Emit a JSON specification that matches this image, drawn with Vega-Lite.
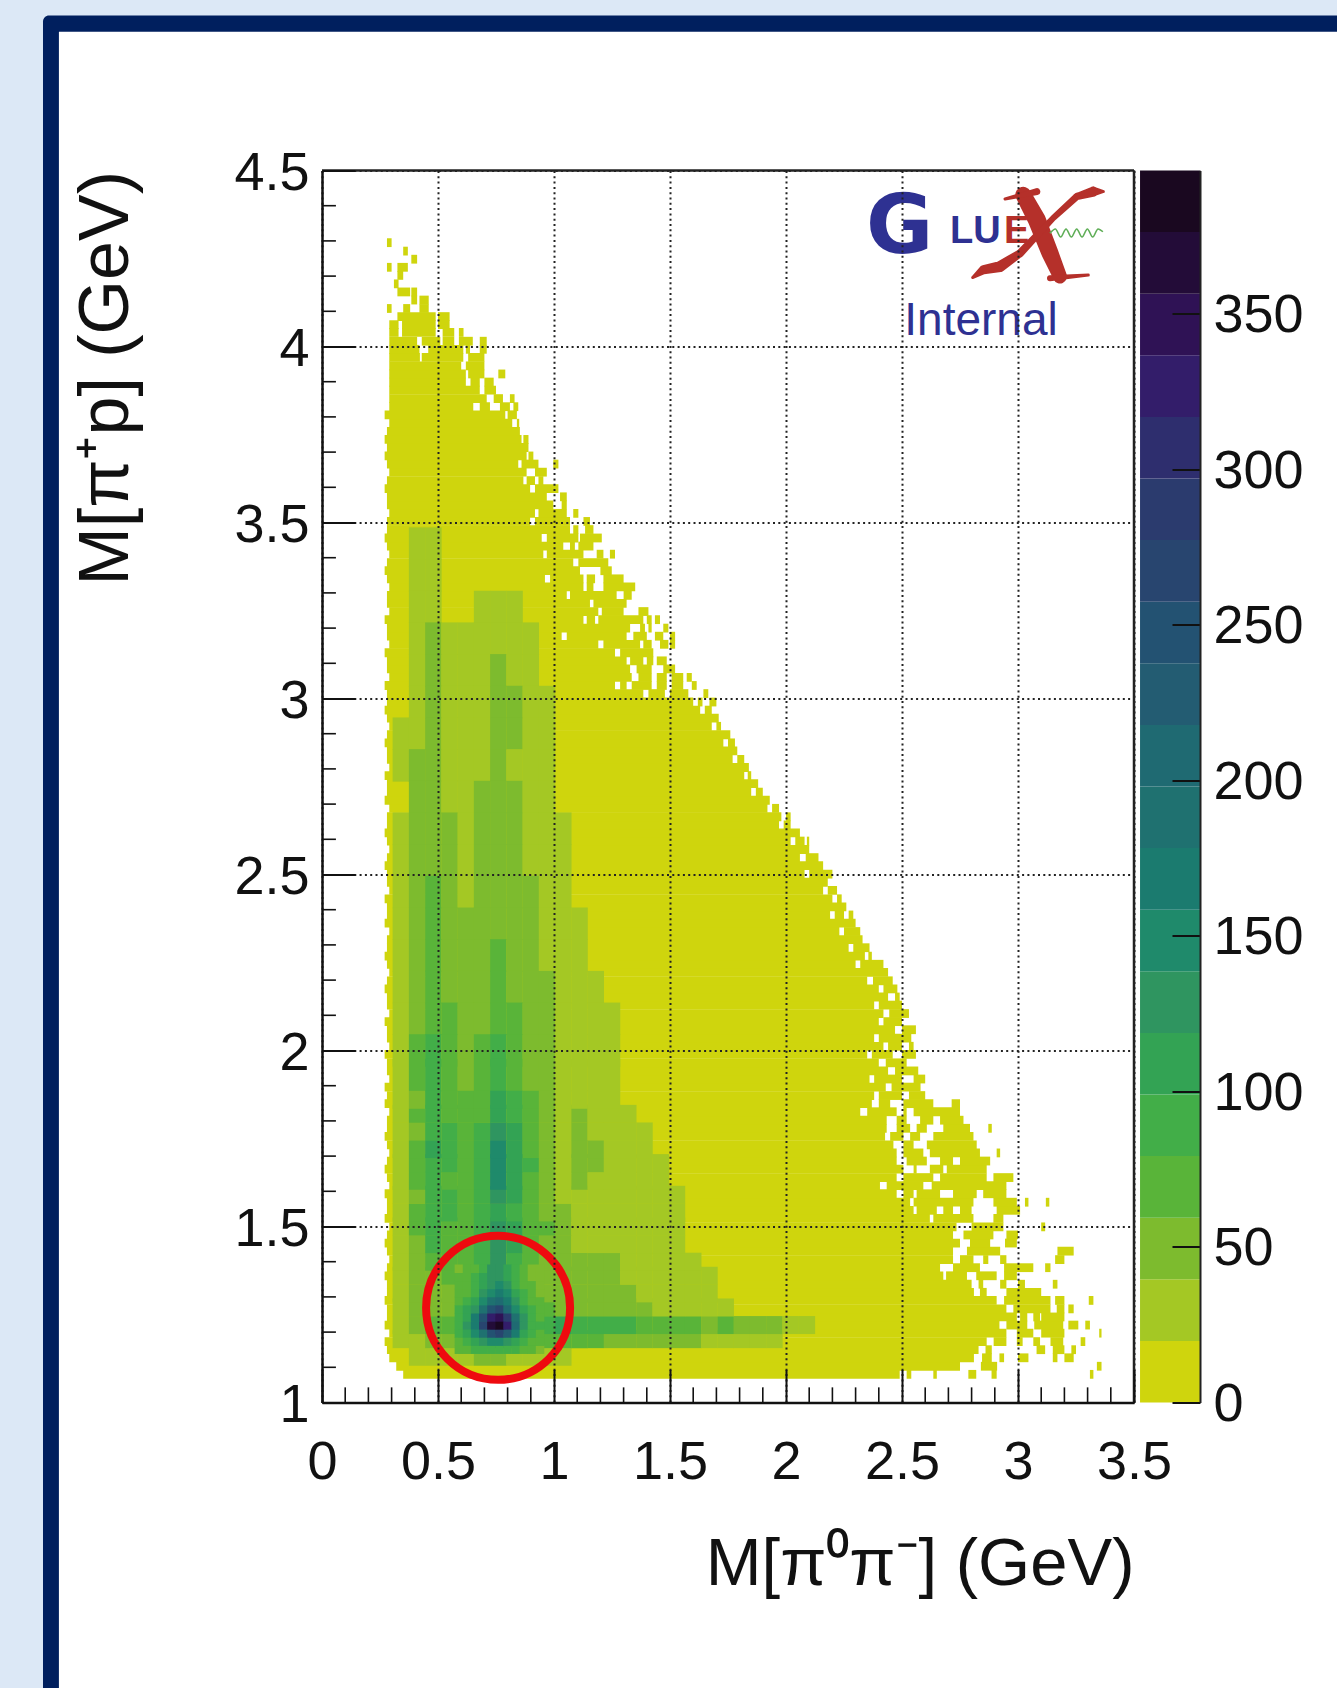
{"$schema":"https://vega.github.io/schema/vega-lite/v6.json","width":812,"height":1232,"autosize":"none","padding":{"left":322,"top":170.5,"right":203,"bottom":285.5},"background":"#dce8f6","config":{"view":{"stroke":null},"axis":{"labelFont":"Liberation Sans","titleFont":"Liberation Sans"},"legend":{"disable":true}},
"datasets":{"frame":[{"k":"navy","a":-1.2026,"b":4.6,"c":0,"d":4.94},{"k":"white","a":-1.134,"b":4.6,"c":0,"d":4.894}],
"strips":[
{"y":1.08,"a":0.35,"b":2.49},{"y":1.08,"a":2.52,"b":2.54},{"y":1.08,"a":2.635,"b":2.65},{"y":1.08,"a":2.786,"b":2.82},{"y":1.08,"a":2.886,"b":2.908},{"y":1.08,"a":3.31,"b":3.325},
{"y":1.103,"a":0.32,"b":2.75},{"y":1.103,"a":2.84,"b":2.91},{"y":1.103,"a":3.34,"b":3.36},
{"y":1.127,"a":0.29,"b":2.81},{"y":1.127,"a":2.845,"b":2.887},{"y":1.127,"a":2.92,"b":2.94},{"y":1.127,"a":3,"b":3.045},{"y":1.127,"a":3.15,"b":3.17},{"y":1.127,"a":3.2,"b":3.24},
{"y":1.15,"a":0.28,"b":2.83},{"y":1.15,"a":2.86,"b":2.887},{"y":1.15,"a":3.08,"b":3.117},{"y":1.15,"a":3.15,"b":3.2},{"y":1.15,"a":3.23,"b":3.25},
{"y":1.173,"a":0.27,"b":2.865},{"y":1.173,"a":2.895,"b":2.95},{"y":1.173,"a":2.995,"b":3.02},{"y":1.173,"a":3.066,"b":3.095},{"y":1.173,"a":3.14,"b":3.195},{"y":1.173,"a":3.27,"b":3.29},
{"y":1.197,"a":0.29,"b":2.95},{"y":1.197,"a":2.995,"b":3.066},{"y":1.197,"a":3.1,"b":3.2},{"y":1.197,"a":3.35,"b":3.36},
{"y":1.22,"a":0.27,"b":2.92},{"y":1.22,"a":2.95,"b":3.04},{"y":1.22,"a":3.07,"b":3.195},{"y":1.22,"a":3.217,"b":3.26},{"y":1.22,"a":3.29,"b":3.31},
{"y":1.243,"a":0.28,"b":2.995},{"y":1.243,"a":3.009,"b":3.04},{"y":1.243,"a":3.066,"b":3.095},{"y":1.243,"a":3.1,"b":3.2},
{"y":1.266,"a":0.28,"b":2.95},{"y":1.266,"a":2.98,"b":3.14},{"y":1.266,"a":3.167,"b":3.2},{"y":1.266,"a":3.217,"b":3.24},
{"y":1.29,"a":0.27,"b":2.908},{"y":1.29,"a":2.94,"b":3.14},{"y":1.29,"a":3.16,"b":3.2},{"y":1.29,"a":3.305,"b":3.325},
{"y":1.313,"a":0.28,"b":2.81},{"y":1.313,"a":2.836,"b":2.865},{"y":1.313,"a":2.95,"b":3.1},
{"y":1.336,"a":0.28,"b":2.8},{"y":1.336,"a":2.83,"b":2.85},{"y":1.336,"a":2.923,"b":2.95},{"y":1.336,"a":3,"b":3.03},{"y":1.336,"a":3.15,"b":3.17},
{"y":1.36,"a":0.27,"b":2.678},{"y":1.36,"a":2.69,"b":2.78},{"y":1.36,"a":2.82,"b":2.908},{"y":1.36,"a":2.94,"b":2.995},
{"y":1.383,"a":0.28,"b":2.664},{"y":1.383,"a":2.72,"b":2.836},{"y":1.383,"a":2.94,"b":3.066},{"y":1.383,"a":3.117,"b":3.14},
{"y":1.406,"a":0.29,"b":2.72},{"y":1.406,"a":2.75,"b":2.808},{"y":1.406,"a":2.85,"b":2.872},{"y":1.406,"a":2.923,"b":2.95},{"y":1.406,"a":3.16,"b":3.2},
{"y":1.43,"a":0.28,"b":2.72},{"y":1.43,"a":2.78,"b":2.923},{"y":1.43,"a":3.17,"b":3.24},
{"y":1.453,"a":0.27,"b":2.75},{"y":1.453,"a":2.793,"b":2.88},{"y":1.453,"a":2.944,"b":2.995},
{"y":1.476,"a":0.28,"b":2.72},{"y":1.476,"a":2.765,"b":2.894},{"y":1.476,"a":2.95,"b":3},
{"y":1.499,"a":0.29,"b":2.735},{"y":1.499,"a":2.8,"b":2.937},{"y":1.499,"a":3.1,"b":3.117},
{"y":1.523,"a":0.27,"b":2.62},{"y":1.523,"a":2.635,"b":2.808},{"y":1.523,"a":2.894,"b":2.937},
{"y":1.546,"a":0.28,"b":2.55},{"y":1.546,"a":2.563,"b":2.65},{"y":1.546,"a":2.678,"b":2.72},{"y":1.546,"a":2.75,"b":2.8},{"y":1.546,"a":2.908,"b":3.009},
{"y":1.569,"a":0.28,"b":2.535},{"y":1.569,"a":2.55,"b":2.808},{"y":1.569,"a":2.894,"b":2.995},{"y":1.569,"a":3.03,"b":3.045},{"y":1.569,"a":3.12,"b":3.135},
{"y":1.593,"a":0.27,"b":2.477},{"y":1.593,"a":2.506,"b":2.55},{"y":1.593,"a":2.563,"b":2.664},{"y":1.593,"a":2.72,"b":2.822},{"y":1.593,"a":2.85,"b":2.95},
{"y":1.616,"a":0.29,"b":2.405},{"y":1.616,"a":2.434,"b":2.592},{"y":1.616,"a":2.628,"b":2.95},
{"y":1.639,"a":0.28,"b":2.477},{"y":1.639,"a":2.506,"b":2.635},{"y":1.639,"a":2.664,"b":2.865},{"y":1.639,"a":2.894,"b":2.98},
{"y":1.663,"a":0.27,"b":2.506},{"y":1.663,"a":2.55,"b":2.563},{"y":1.663,"a":2.62,"b":2.678},{"y":1.663,"a":2.693,"b":2.865},
{"y":1.686,"a":0.28,"b":2.477},{"y":1.686,"a":2.52,"b":2.607},{"y":1.686,"a":2.664,"b":2.72},{"y":1.686,"a":2.75,"b":2.88},
{"y":1.709,"a":0.29,"b":2.477},{"y":1.709,"a":2.506,"b":2.592},{"y":1.709,"a":2.62,"b":2.836},{"y":1.709,"a":2.908,"b":2.923},
{"y":1.732,"a":0.28,"b":2.463},{"y":1.732,"a":2.506,"b":2.55},{"y":1.732,"a":2.607,"b":2.822},
{"y":1.756,"a":0.27,"b":2.427},{"y":1.756,"a":2.449,"b":2.506},{"y":1.756,"a":2.535,"b":2.578},{"y":1.756,"a":2.635,"b":2.808},
{"y":1.779,"a":0.28,"b":2.434},{"y":1.779,"a":2.477,"b":2.535},{"y":1.779,"a":2.563,"b":2.607},{"y":1.779,"a":2.678,"b":2.793},{"y":1.779,"a":2.872,"b":2.887},
{"y":1.802,"a":0.28,"b":2.434},{"y":1.802,"a":2.477,"b":2.52},{"y":1.802,"a":2.578,"b":2.635},{"y":1.802,"a":2.664,"b":2.765},
{"y":1.826,"a":0.29,"b":2.32},{"y":1.826,"a":2.35,"b":2.477},{"y":1.826,"a":2.506,"b":2.52},{"y":1.826,"a":2.55,"b":2.75},
{"y":1.849,"a":0.27,"b":2.37},{"y":1.849,"a":2.4,"b":2.449},{"y":1.849,"a":2.506,"b":2.635},{"y":1.849,"a":2.714,"b":2.75},
{"y":1.872,"a":0.28,"b":2.38},{"y":1.872,"a":2.4,"b":2.5},{"y":1.872,"a":2.53,"b":2.6},
{"y":1.896,"a":0.27,"b":2.43},{"y":1.896,"a":2.455,"b":2.58},
{"y":1.919,"a":0.29,"b":2.36},{"y":1.919,"a":2.38,"b":2.5},{"y":1.919,"a":2.55,"b":2.6},
{"y":1.942,"a":0.28,"b":2.44},{"y":1.942,"a":2.47,"b":2.57},
{"y":1.965,"a":0.28,"b":2.4},{"y":1.965,"a":2.43,"b":2.52},
{"y":1.989,"a":0.27,"b":2.35},{"y":1.989,"a":2.37,"b":2.46},{"y":1.989,"a":2.5,"b":2.56},
{"y":2.012,"a":0.29,"b":2.42},{"y":2.012,"a":2.44,"b":2.5},{"y":2.012,"a":2.53,"b":2.55},
{"y":2.035,"a":0.28,"b":2.38},{"y":2.035,"a":2.4,"b":2.54},
{"y":2.059,"a":0.28,"b":2.47},{"y":2.059,"a":2.5,"b":2.56},
{"y":2.082,"a":0.27,"b":2.4},{"y":2.082,"a":2.42,"b":2.5},
{"y":2.105,"a":0.29,"b":2.42},{"y":2.105,"a":2.445,"b":2.53},
{"y":2.129,"a":0.28,"b":2.38},{"y":2.129,"a":2.4,"b":2.5},
{"y":2.152,"a":0.28,"b":2.44},{"y":2.152,"a":2.47,"b":2.49},
{"y":2.175,"a":0.27,"b":2.4},{"y":2.175,"a":2.42,"b":2.48},
{"y":2.198,"a":0.28,"b":2.35},{"y":2.198,"a":2.375,"b":2.46},
{"y":2.222,"a":0.29,"b":2.44},
{"y":2.245,"a":0.28,"b":2.3},{"y":2.245,"a":2.32,"b":2.42},
{"y":2.268,"a":0.27,"b":2.34},{"y":2.268,"a":2.355,"b":2.37},
{"y":2.292,"a":0.28,"b":2.27},{"y":2.292,"a":2.29,"b":2.36},
{"y":2.315,"a":0.28,"b":2.33},
{"y":2.338,"a":0.29,"b":2.23},{"y":2.338,"a":2.25,"b":2.32},
{"y":2.362,"a":0.27,"b":2.3},
{"y":2.385,"a":0.28,"b":2.19},{"y":2.385,"a":2.21,"b":2.25},{"y":2.385,"a":2.27,"b":2.29},
{"y":2.408,"a":0.28,"b":2.26},
{"y":2.431,"a":0.27,"b":2.2},{"y":2.431,"a":2.22,"b":2.24},
{"y":2.455,"a":0.29,"b":2.16},{"y":2.455,"a":2.18,"b":2.22},
{"y":2.478,"a":0.28,"b":2.18},
{"y":2.501,"a":0.28,"b":2.08},{"y":2.501,"a":2.1,"b":2.2},
{"y":2.525,"a":0.27,"b":2.16},
{"y":2.548,"a":0.28,"b":2.06},{"y":2.548,"a":2.085,"b":2.14},
{"y":2.571,"a":0.29,"b":2.1},
{"y":2.595,"a":0.28,"b":2.02},{"y":2.595,"a":2.04,"b":2.08},{"y":2.595,"a":2.09,"b":2.1},
{"y":2.618,"a":0.27,"b":2.06},
{"y":2.641,"a":0.28,"b":1.97},{"y":2.641,"a":1.99,"b":2.02},
{"y":2.664,"a":0.28,"b":1.98},{"y":2.664,"a":2,"b":2.02},
{"y":2.688,"a":0.29,"b":1.92},{"y":2.688,"a":1.94,"b":1.97},
{"y":2.711,"a":0.27,"b":1.93},
{"y":2.734,"a":0.28,"b":1.85},{"y":2.734,"a":1.87,"b":1.9},
{"y":2.758,"a":0.28,"b":1.88},
{"y":2.781,"a":0.27,"b":1.82},{"y":2.781,"a":1.835,"b":1.85},
{"y":2.804,"a":0.29,"b":1.84},
{"y":2.827,"a":0.28,"b":1.77},{"y":2.827,"a":1.79,"b":1.82},
{"y":2.851,"a":0.28,"b":1.79},
{"y":2.874,"a":0.27,"b":1.73},{"y":2.874,"a":1.75,"b":1.78},
{"y":2.897,"a":0.28,"b":1.76},
{"y":2.921,"a":0.29,"b":1.68},{"y":2.921,"a":1.7,"b":1.72},
{"y":2.944,"a":0.28,"b":1.71},
{"y":2.967,"a":0.27,"b":1.63},{"y":2.967,"a":1.65,"b":1.68},
{"y":2.99,"a":0.28,"b":1.6},{"y":2.99,"a":1.62,"b":1.64},{"y":2.99,"a":1.67,"b":1.7},
{"y":3.014,"a":0.28,"b":1.385},{"y":3.014,"a":1.407,"b":1.478},{"y":3.014,"a":1.5,"b":1.579},{"y":3.014,"a":1.644,"b":1.665},
{"y":3.037,"a":0.27,"b":1.263},{"y":3.037,"a":1.285,"b":1.313},{"y":3.037,"a":1.335,"b":1.421},{"y":3.037,"a":1.443,"b":1.486},{"y":3.037,"a":1.507,"b":1.557},{"y":3.037,"a":1.594,"b":1.615},
{"y":3.06,"a":0.29,"b":1.335},{"y":3.06,"a":1.364,"b":1.421},{"y":3.06,"a":1.443,"b":1.486},{"y":3.06,"a":1.507,"b":1.557},{"y":3.06,"a":1.572,"b":1.594},
{"y":3.084,"a":0.28,"b":1.328},{"y":3.084,"a":1.356,"b":1.421},{"y":3.084,"a":1.471,"b":1.522},
{"y":3.107,"a":0.28,"b":1.313},{"y":3.107,"a":1.328,"b":1.385},{"y":3.107,"a":1.4,"b":1.428},{"y":3.107,"a":1.443,"b":1.486},
{"y":3.13,"a":0.27,"b":1.263},{"y":3.13,"a":1.285,"b":1.428},
{"y":3.154,"a":0.29,"b":1.191},{"y":3.154,"a":1.213,"b":1.371},{"y":3.154,"a":1.385,"b":1.421},{"y":3.154,"a":1.457,"b":1.493},{"y":3.154,"a":1.5,"b":1.522},
{"y":3.177,"a":0.28,"b":1.033},{"y":3.177,"a":1.055,"b":1.313},{"y":3.177,"a":1.342,"b":1.4},{"y":3.177,"a":1.435,"b":1.471},{"y":3.177,"a":1.5,"b":1.522},
{"y":3.2,"a":0.28,"b":1.328},{"y":3.2,"a":1.371,"b":1.392},{"y":3.2,"a":1.407,"b":1.421},{"y":3.2,"a":1.471,"b":1.493},
{"y":3.224,"a":0.27,"b":1.127},{"y":3.224,"a":1.141,"b":1.177},{"y":3.224,"a":1.191,"b":1.385},{"y":3.224,"a":1.4,"b":1.421},{"y":3.224,"a":1.435,"b":1.457},
{"y":3.247,"a":0.29,"b":1.191},{"y":3.247,"a":1.206,"b":1.3},{"y":3.247,"a":1.364,"b":1.407},
{"y":3.27,"a":0.28,"b":1.155},{"y":3.27,"a":1.17,"b":1.313},
{"y":3.293,"a":0.28,"b":1.055},{"y":3.293,"a":1.069,"b":1.27},{"y":3.293,"a":1.3,"b":1.335},
{"y":3.317,"a":0.29,"b":1.127},{"y":3.317,"a":1.141,"b":1.17},{"y":3.317,"a":1.213,"b":1.35},
{"y":3.34,"a":0.28,"b":0.961},{"y":3.34,"a":0.983,"b":1.127},{"y":3.34,"a":1.141,"b":1.177},{"y":3.34,"a":1.213,"b":1.3},
{"y":3.363,"a":0.27,"b":1.112},{"y":3.363,"a":1.2,"b":1.249},
{"y":3.386,"a":0.28,"b":1.083},{"y":3.386,"a":1.105,"b":1.234},
{"y":3.41,"a":0.29,"b":0.954},{"y":3.41,"a":0.969,"b":1.127},{"y":3.41,"a":1.184,"b":1.213},{"y":3.41,"a":1.241,"b":1.263},
{"y":3.433,"a":0.28,"b":1.04},{"y":3.433,"a":1.069,"b":1.09},{"y":3.433,"a":1.105,"b":1.17},
{"y":3.456,"a":0.27,"b":0.947},{"y":3.456,"a":0.969,"b":1.105},{"y":3.456,"a":1.112,"b":1.206},
{"y":3.48,"a":0.28,"b":1.069},{"y":3.48,"a":1.083,"b":1.105},{"y":3.48,"a":1.134,"b":1.17},
{"y":3.503,"a":0.28,"b":0.897},{"y":3.503,"a":0.918,"b":1.069},{"y":3.503,"a":1.127,"b":1.155},
{"y":3.526,"a":0.29,"b":0.918},{"y":3.526,"a":0.933,"b":1.055},{"y":3.526,"a":1.083,"b":1.105},
{"y":3.55,"a":0.28,"b":0.997},{"y":3.55,"a":1.033,"b":1.055},
{"y":3.573,"a":0.28,"b":0.969},{"y":3.573,"a":1.026,"b":1.055},
{"y":3.596,"a":0.27,"b":0.897},{"y":3.596,"a":0.918,"b":1.019},
{"y":3.619,"a":0.28,"b":0.868},{"y":3.619,"a":0.882,"b":0.918},{"y":3.619,"a":0.933,"b":0.954},
{"y":3.643,"a":0.29,"b":0.882},{"y":3.643,"a":0.918,"b":0.969},
{"y":3.666,"a":0.28,"b":0.846},{"y":3.666,"a":0.86,"b":0.933},{"y":3.666,"a":0.997,"b":1.019},
{"y":3.689,"a":0.27,"b":0.882},{"y":3.689,"a":0.89,"b":0.911},
{"y":3.713,"a":0.28,"b":0.89},
{"y":3.736,"a":0.27,"b":0.86},{"y":3.736,"a":0.868,"b":0.89},
{"y":3.759,"a":0.28,"b":0.853},
{"y":3.782,"a":0.29,"b":0.82},{"y":3.782,"a":0.84,"b":0.85},
{"y":3.806,"a":0.27,"b":0.79},{"y":3.806,"a":0.8,"b":0.84},
{"y":3.829,"a":0.29,"b":0.652},{"y":3.829,"a":0.68,"b":0.724},{"y":3.829,"a":0.767,"b":0.81},{"y":3.829,"a":0.825,"b":0.846},
{"y":3.852,"a":0.29,"b":0.71},{"y":3.852,"a":0.74,"b":0.78},{"y":3.852,"a":0.81,"b":0.83},
{"y":3.876,"a":0.29,"b":0.68},{"y":3.876,"a":0.7,"b":0.75},
{"y":3.899,"a":0.29,"b":0.62},{"y":3.899,"a":0.64,"b":0.68},{"y":3.899,"a":0.7,"b":0.74},
{"y":3.922,"a":0.29,"b":0.62},{"y":3.922,"a":0.63,"b":0.7},{"y":3.922,"a":0.76,"b":0.79},
{"y":3.945,"a":0.29,"b":0.6},{"y":3.945,"a":0.62,"b":0.7},
{"y":3.969,"a":0.29,"b":0.422},{"y":3.969,"a":0.43,"b":0.609},{"y":3.969,"a":0.63,"b":0.7},
{"y":3.992,"a":0.29,"b":0.42},{"y":3.992,"a":0.458,"b":0.609},{"y":3.992,"a":0.62,"b":0.638},{"y":3.992,"a":0.68,"b":0.71},
{"y":4.015,"a":0.29,"b":0.41},{"y":4.015,"a":0.43,"b":0.51},{"y":4.015,"a":0.52,"b":0.57},{"y":4.015,"a":0.59,"b":0.65},{"y":4.015,"a":0.68,"b":0.71},
{"y":4.04,"a":0.29,"b":0.33},{"y":4.04,"a":0.345,"b":0.49},{"y":4.04,"a":0.52,"b":0.57},{"y":4.04,"a":0.59,"b":0.61},
{"y":4.062,"a":0.29,"b":0.33},{"y":4.062,"a":0.345,"b":0.49},{"y":4.062,"a":0.5,"b":0.55},
{"y":4.085,"a":0.325,"b":0.49},{"y":4.085,"a":0.5,"b":0.55},
{"y":4.108,"a":0.28,"b":0.3},{"y":4.108,"a":0.35,"b":0.38},{"y":4.108,"a":0.42,"b":0.46},
{"y":4.132,"a":0.385,"b":0.41},{"y":4.132,"a":0.42,"b":0.46},
{"y":4.155,"a":0.325,"b":0.38},{"y":4.155,"a":0.385,"b":0.41},
{"y":4.178,"a":0.31,"b":0.33},
{"y":4.202,"a":0.325,"b":0.35},
{"y":4.225,"a":0.28,"b":0.3},{"y":4.225,"a":0.325,"b":0.37},
{"y":4.248,"a":0.385,"b":0.41},
{"y":4.271,"a":0.35,"b":0.37},
{"y":4.295,"a":0.28,"b":0.3}],
"tall":[
{"y":3.44,"x":0.41,"c":22},{"y":3.44,"x":0.48,"c":26},
{"y":3.35,"x":0.41,"c":22},{"y":3.35,"x":0.48,"c":28},
{"y":3.26,"x":0.41,"c":28},{"y":3.26,"x":0.48,"c":36},{"y":3.26,"x":0.69,"c":21},{"y":3.26,"x":0.76,"c":24},{"y":3.26,"x":0.83,"c":22},
{"y":3.17,"x":0.41,"c":30},{"y":3.17,"x":0.48,"c":42},{"y":3.17,"x":0.55,"c":22},{"y":3.17,"x":0.62,"c":21},{"y":3.17,"x":0.69,"c":26},{"y":3.17,"x":0.76,"c":34},{"y":3.17,"x":0.83,"c":30},{"y":3.17,"x":0.9,"c":21},
{"y":3.08,"x":0.41,"c":36},{"y":3.08,"x":0.48,"c":48},{"y":3.08,"x":0.55,"c":26},{"y":3.08,"x":0.62,"c":24},{"y":3.08,"x":0.69,"c":30},{"y":3.08,"x":0.76,"c":42},{"y":3.08,"x":0.83,"c":38},{"y":3.08,"x":0.9,"c":24},
{"y":2.99,"x":0.41,"c":38},{"y":2.99,"x":0.48,"c":50},{"y":2.99,"x":0.55,"c":30},{"y":2.99,"x":0.62,"c":28},{"y":2.99,"x":0.69,"c":36},{"y":2.99,"x":0.76,"c":48},{"y":2.99,"x":0.83,"c":42},{"y":2.99,"x":0.9,"c":28},{"y":2.99,"x":0.97,"c":21},
{"y":2.9,"x":0.34,"c":21},{"y":2.9,"x":0.41,"c":38},{"y":2.9,"x":0.48,"c":52},{"y":2.9,"x":0.55,"c":32},{"y":2.9,"x":0.62,"c":24},{"y":2.9,"x":0.69,"c":38},{"y":2.9,"x":0.76,"c":50},{"y":2.9,"x":0.83,"c":42},{"y":2.9,"x":0.9,"c":30},{"y":2.9,"x":0.97,"c":21},
{"y":2.81,"x":0.34,"c":21},{"y":2.81,"x":0.41,"c":42},{"y":2.81,"x":0.48,"c":54},{"y":2.81,"x":0.55,"c":36},{"y":2.81,"x":0.62,"c":26},{"y":2.81,"x":0.69,"c":38},{"y":2.81,"x":0.76,"c":48},{"y":2.81,"x":0.83,"c":38},{"y":2.81,"x":0.9,"c":32},{"y":2.81,"x":0.97,"c":22},
{"y":2.72,"x":0.41,"c":40},{"y":2.72,"x":0.48,"c":54},{"y":2.72,"x":0.55,"c":36},{"y":2.72,"x":0.62,"c":30},{"y":2.72,"x":0.69,"c":40},{"y":2.72,"x":0.76,"c":52},{"y":2.72,"x":0.83,"c":44},{"y":2.72,"x":0.9,"c":33},{"y":2.72,"x":0.97,"c":22},
{"y":2.63,"x":0.34,"c":21},{"y":2.63,"x":0.41,"c":42},{"y":2.63,"x":0.48,"c":55},{"y":2.63,"x":0.55,"c":40},{"y":2.63,"x":0.62,"c":36},{"y":2.63,"x":0.69,"c":41},{"y":2.63,"x":0.76,"c":55},{"y":2.63,"x":0.83,"c":44},{"y":2.63,"x":0.9,"c":34},{"y":2.63,"x":0.97,"c":25},{"y":2.63,"x":1.04,"c":21},
{"y":2.54,"x":0.34,"c":23},{"y":2.54,"x":0.41,"c":44},{"y":2.54,"x":0.48,"c":58},{"y":2.54,"x":0.55,"c":42},{"y":2.54,"x":0.62,"c":34},{"y":2.54,"x":0.69,"c":42},{"y":2.54,"x":0.76,"c":56},{"y":2.54,"x":0.83,"c":46},{"y":2.54,"x":0.9,"c":36},{"y":2.54,"x":0.97,"c":28},{"y":2.54,"x":1.04,"c":22},
{"y":2.45,"x":0.34,"c":24},{"y":2.45,"x":0.41,"c":46},{"y":2.45,"x":0.48,"c":60},{"y":2.45,"x":0.55,"c":46},{"y":2.45,"x":0.62,"c":38},{"y":2.45,"x":0.69,"c":43},{"y":2.45,"x":0.76,"c":58},{"y":2.45,"x":0.83,"c":48},{"y":2.45,"x":0.9,"c":40},{"y":2.45,"x":0.97,"c":32},{"y":2.45,"x":1.04,"c":25},
{"y":2.36,"x":0.34,"c":25},{"y":2.36,"x":0.41,"c":50},{"y":2.36,"x":0.48,"c":62},{"y":2.36,"x":0.55,"c":50},{"y":2.36,"x":0.62,"c":41},{"y":2.36,"x":0.69,"c":46},{"y":2.36,"x":0.76,"c":58},{"y":2.36,"x":0.83,"c":50},{"y":2.36,"x":0.9,"c":42},{"y":2.36,"x":0.97,"c":36},{"y":2.36,"x":1.04,"c":26},{"y":2.36,"x":1.11,"c":20},
{"y":2.27,"x":0.34,"c":28},{"y":2.27,"x":0.41,"c":52},{"y":2.27,"x":0.48,"c":64},{"y":2.27,"x":0.55,"c":54},{"y":2.27,"x":0.62,"c":44},{"y":2.27,"x":0.69,"c":50},{"y":2.27,"x":0.76,"c":62},{"y":2.27,"x":0.83,"c":52},{"y":2.27,"x":0.9,"c":44},{"y":2.27,"x":0.97,"c":38},{"y":2.27,"x":1.04,"c":28},{"y":2.27,"x":1.11,"c":22},
{"y":2.18,"x":0.34,"c":28},{"y":2.18,"x":0.41,"c":56},{"y":2.18,"x":0.48,"c":68},{"y":2.18,"x":0.55,"c":56},{"y":2.18,"x":0.62,"c":42},{"y":2.18,"x":0.69,"c":54},{"y":2.18,"x":0.76,"c":66},{"y":2.18,"x":0.83,"c":54},{"y":2.18,"x":0.9,"c":46},{"y":2.18,"x":0.97,"c":40},{"y":2.18,"x":1.04,"c":30},{"y":2.18,"x":1.11,"c":22},{"y":2.18,"x":1.18,"c":20},
{"y":2.09,"x":0.34,"c":30},{"y":2.09,"x":0.41,"c":58},{"y":2.09,"x":0.48,"c":76},{"y":2.09,"x":0.55,"c":60},{"y":2.09,"x":0.62,"c":48},{"y":2.09,"x":0.69,"c":58},{"y":2.09,"x":0.76,"c":74},{"y":2.09,"x":0.83,"c":60},{"y":2.09,"x":0.9,"c":48},{"y":2.09,"x":0.97,"c":40},{"y":2.09,"x":1.04,"c":32},{"y":2.09,"x":1.11,"c":24},{"y":2.09,"x":1.18,"c":22},{"y":2.09,"x":1.25,"c":20},
{"y":2,"x":0.34,"c":32},{"y":2,"x":0.41,"c":62},{"y":2,"x":0.48,"c":82},{"y":2,"x":0.55,"c":65},{"y":2,"x":0.62,"c":50},{"y":2,"x":0.69,"c":62},{"y":2,"x":0.76,"c":88},{"y":2,"x":0.83,"c":66},{"y":2,"x":0.9,"c":50},{"y":2,"x":0.97,"c":42},{"y":2,"x":1.04,"c":34},{"y":2,"x":1.11,"c":26},{"y":2,"x":1.18,"c":24},{"y":2,"x":1.25,"c":22},
{"y":1.93,"x":0.34,"c":32},{"y":1.93,"x":0.41,"c":60},{"y":1.93,"x":0.48,"c":84},{"y":1.93,"x":0.55,"c":68},{"y":1.93,"x":0.62,"c":56},{"y":1.93,"x":0.69,"c":66},{"y":1.93,"x":0.76,"c":95},{"y":1.93,"x":0.83,"c":72},{"y":1.93,"x":0.9,"c":55},{"y":1.93,"x":0.97,"c":42},{"y":1.93,"x":1.04,"c":30},{"y":1.93,"x":1.11,"c":30},{"y":1.93,"x":1.18,"c":26},{"y":1.93,"x":1.25,"c":22}],
"coarse":[
{"y":1.13,"x":0.41,"c":22},{"y":1.13,"x":0.48,"c":25},{"y":1.13,"x":0.55,"c":30},{"y":1.13,"x":0.62,"c":35},{"y":1.13,"x":0.69,"c":40},{"y":1.13,"x":0.76,"c":42},{"y":1.13,"x":0.83,"c":38},{"y":1.13,"x":0.9,"c":30},{"y":1.13,"x":0.97,"c":24},{"y":1.13,"x":1.04,"c":20},
{"y":1.18,"x":0.34,"c":22},{"y":1.18,"x":0.41,"c":35},{"y":1.18,"x":0.48,"c":45},{"y":1.18,"x":0.55,"c":55},{"y":1.18,"x":0.62,"c":75},{"y":1.18,"x":0.69,"c":95},{"y":1.18,"x":0.76,"c":130},{"y":1.18,"x":0.83,"c":95},{"y":1.18,"x":0.9,"c":85},{"y":1.18,"x":0.97,"c":65},{"y":1.18,"x":1.04,"c":65},{"y":1.18,"x":1.11,"c":60},{"y":1.18,"x":1.18,"c":60},{"y":1.18,"x":1.25,"c":55},{"y":1.18,"x":1.32,"c":50},{"y":1.18,"x":1.39,"c":48},{"y":1.18,"x":1.46,"c":45},{"y":1.18,"x":1.53,"c":42},{"y":1.18,"x":1.6,"c":40},{"y":1.18,"x":1.67,"c":38},{"y":1.18,"x":1.74,"c":35},{"y":1.18,"x":1.81,"c":30},{"y":1.18,"x":1.88,"c":25},{"y":1.18,"x":1.95,"c":22},
{"y":1.22,"x":0.34,"c":38},{"y":1.22,"x":0.41,"c":50},{"y":1.22,"x":0.48,"c":62},{"y":1.22,"x":0.55,"c":70},{"y":1.22,"x":0.62,"c":95},{"y":1.22,"x":0.69,"c":130},{"y":1.22,"x":0.76,"c":300},{"y":1.22,"x":0.83,"c":170},{"y":1.22,"x":0.9,"c":100},{"y":1.22,"x":0.97,"c":95},{"y":1.22,"x":1.04,"c":105},{"y":1.22,"x":1.11,"c":88},{"y":1.22,"x":1.18,"c":98},{"y":1.22,"x":1.25,"c":92},{"y":1.22,"x":1.32,"c":82},{"y":1.22,"x":1.39,"c":78},{"y":1.22,"x":1.46,"c":72},{"y":1.22,"x":1.53,"c":70},{"y":1.22,"x":1.6,"c":62},{"y":1.22,"x":1.67,"c":58},{"y":1.22,"x":1.74,"c":60},{"y":1.22,"x":1.81,"c":50},{"y":1.22,"x":1.88,"c":45},{"y":1.22,"x":1.95,"c":40},{"y":1.22,"x":2.02,"c":36},{"y":1.22,"x":2.09,"c":24},
{"y":1.27,"x":0.34,"c":28},{"y":1.27,"x":0.41,"c":45},{"y":1.27,"x":0.48,"c":52},{"y":1.27,"x":0.55,"c":58},{"y":1.27,"x":0.62,"c":72},{"y":1.27,"x":0.69,"c":100},{"y":1.27,"x":0.76,"c":200},{"y":1.27,"x":0.83,"c":120},{"y":1.27,"x":0.9,"c":85},{"y":1.27,"x":0.97,"c":65},{"y":1.27,"x":1.04,"c":55},{"y":1.27,"x":1.11,"c":52},{"y":1.27,"x":1.18,"c":50},{"y":1.27,"x":1.25,"c":46},{"y":1.27,"x":1.32,"c":44},{"y":1.27,"x":1.39,"c":40},{"y":1.27,"x":1.46,"c":36},{"y":1.27,"x":1.53,"c":30},{"y":1.27,"x":1.6,"c":30},{"y":1.27,"x":1.67,"c":25},{"y":1.27,"x":1.74,"c":22},
{"y":1.31,"x":0.34,"c":25},{"y":1.31,"x":0.41,"c":42},{"y":1.31,"x":0.48,"c":50},{"y":1.31,"x":0.55,"c":55},{"y":1.31,"x":0.62,"c":62},{"y":1.31,"x":0.69,"c":85},{"y":1.31,"x":0.76,"c":140},{"y":1.31,"x":0.83,"c":100},{"y":1.31,"x":0.9,"c":72},{"y":1.31,"x":0.97,"c":58},{"y":1.31,"x":1.04,"c":50},{"y":1.31,"x":1.11,"c":48},{"y":1.31,"x":1.18,"c":45},{"y":1.31,"x":1.25,"c":40},{"y":1.31,"x":1.32,"c":42},{"y":1.31,"x":1.39,"c":35},{"y":1.31,"x":1.46,"c":30},{"y":1.31,"x":1.53,"c":28},{"y":1.31,"x":1.6,"c":22},{"y":1.31,"x":1.67,"c":24},
{"y":1.36,"x":0.34,"c":25},{"y":1.36,"x":0.41,"c":48},{"y":1.36,"x":0.48,"c":58},{"y":1.36,"x":0.55,"c":60},{"y":1.36,"x":0.62,"c":62},{"y":1.36,"x":0.69,"c":82},{"y":1.36,"x":0.76,"c":125},{"y":1.36,"x":0.83,"c":95},{"y":1.36,"x":0.9,"c":70},{"y":1.36,"x":0.97,"c":58},{"y":1.36,"x":1.04,"c":48},{"y":1.36,"x":1.11,"c":46},{"y":1.36,"x":1.18,"c":42},{"y":1.36,"x":1.25,"c":45},{"y":1.36,"x":1.32,"c":38},{"y":1.36,"x":1.39,"c":30},{"y":1.36,"x":1.46,"c":32},{"y":1.36,"x":1.53,"c":24},{"y":1.36,"x":1.6,"c":25},{"y":1.36,"x":1.67,"c":20},
{"y":1.4,"x":0.34,"c":24},{"y":1.4,"x":0.41,"c":55},{"y":1.4,"x":0.48,"c":70},{"y":1.4,"x":0.55,"c":65},{"y":1.4,"x":0.62,"c":60},{"y":1.4,"x":0.69,"c":85},{"y":1.4,"x":0.76,"c":128},{"y":1.4,"x":0.83,"c":98},{"y":1.4,"x":0.9,"c":72},{"y":1.4,"x":0.97,"c":55},{"y":1.4,"x":1.04,"c":45},{"y":1.4,"x":1.11,"c":42},{"y":1.4,"x":1.18,"c":40},{"y":1.4,"x":1.25,"c":40},{"y":1.4,"x":1.32,"c":30},{"y":1.4,"x":1.39,"c":35},{"y":1.4,"x":1.46,"c":26},{"y":1.4,"x":1.53,"c":28},{"y":1.4,"x":1.6,"c":20},
{"y":1.45,"x":0.34,"c":28},{"y":1.45,"x":0.41,"c":58},{"y":1.45,"x":0.48,"c":88},{"y":1.45,"x":0.55,"c":72},{"y":1.45,"x":0.62,"c":66},{"y":1.45,"x":0.69,"c":88},{"y":1.45,"x":0.76,"c":132},{"y":1.45,"x":0.83,"c":100},{"y":1.45,"x":0.9,"c":74},{"y":1.45,"x":0.97,"c":58},{"y":1.45,"x":1.04,"c":42},{"y":1.45,"x":1.11,"c":38},{"y":1.45,"x":1.18,"c":36},{"y":1.45,"x":1.25,"c":32},{"y":1.45,"x":1.32,"c":35},{"y":1.45,"x":1.39,"c":30},{"y":1.45,"x":1.46,"c":24},{"y":1.45,"x":1.53,"c":25},
{"y":1.5,"x":0.34,"c":30},{"y":1.5,"x":0.41,"c":60},{"y":1.5,"x":0.48,"c":90},{"y":1.5,"x":0.55,"c":78},{"y":1.5,"x":0.62,"c":68},{"y":1.5,"x":0.69,"c":85},{"y":1.5,"x":0.76,"c":128},{"y":1.5,"x":0.83,"c":100},{"y":1.5,"x":0.9,"c":72},{"y":1.5,"x":0.97,"c":60},{"y":1.5,"x":1.04,"c":48},{"y":1.5,"x":1.11,"c":38},{"y":1.5,"x":1.18,"c":30},{"y":1.5,"x":1.25,"c":36},{"y":1.5,"x":1.32,"c":28},{"y":1.5,"x":1.39,"c":26},{"y":1.5,"x":1.46,"c":28},{"y":1.5,"x":1.53,"c":22},
{"y":1.54,"x":0.34,"c":30},{"y":1.54,"x":0.41,"c":62},{"y":1.54,"x":0.48,"c":88},{"y":1.54,"x":0.55,"c":80},{"y":1.54,"x":0.62,"c":66},{"y":1.54,"x":0.69,"c":82},{"y":1.54,"x":0.76,"c":118},{"y":1.54,"x":0.83,"c":92},{"y":1.54,"x":0.9,"c":70},{"y":1.54,"x":0.97,"c":52},{"y":1.54,"x":1.04,"c":40},{"y":1.54,"x":1.11,"c":30},{"y":1.54,"x":1.18,"c":34},{"y":1.54,"x":1.25,"c":28},{"y":1.54,"x":1.32,"c":32},{"y":1.54,"x":1.39,"c":24},{"y":1.54,"x":1.46,"c":30},{"y":1.54,"x":1.53,"c":20},
{"y":1.59,"x":0.34,"c":32},{"y":1.59,"x":0.41,"c":58},{"y":1.59,"x":0.48,"c":92},{"y":1.59,"x":0.55,"c":85},{"y":1.59,"x":0.62,"c":70},{"y":1.59,"x":0.69,"c":85},{"y":1.59,"x":0.76,"c":132},{"y":1.59,"x":0.83,"c":105},{"y":1.59,"x":0.9,"c":68},{"y":1.59,"x":0.97,"c":50},{"y":1.59,"x":1.04,"c":38},{"y":1.59,"x":1.11,"c":36},{"y":1.59,"x":1.18,"c":32},{"y":1.59,"x":1.25,"c":34},{"y":1.59,"x":1.32,"c":28},{"y":1.59,"x":1.39,"c":30},{"y":1.59,"x":1.46,"c":22},{"y":1.59,"x":1.53,"c":26},
{"y":1.63,"x":0.34,"c":30},{"y":1.63,"x":0.41,"c":65},{"y":1.63,"x":0.48,"c":98},{"y":1.63,"x":0.55,"c":78},{"y":1.63,"x":0.62,"c":64},{"y":1.63,"x":0.69,"c":90},{"y":1.63,"x":0.76,"c":145},{"y":1.63,"x":0.83,"c":112},{"y":1.63,"x":0.9,"c":78},{"y":1.63,"x":0.97,"c":48},{"y":1.63,"x":1.04,"c":36},{"y":1.63,"x":1.11,"c":40},{"y":1.63,"x":1.18,"c":36},{"y":1.63,"x":1.25,"c":28},{"y":1.63,"x":1.32,"c":36},{"y":1.63,"x":1.39,"c":32},{"y":1.63,"x":1.46,"c":24},
{"y":1.68,"x":0.34,"c":34},{"y":1.68,"x":0.41,"c":60},{"y":1.68,"x":0.48,"c":95},{"y":1.68,"x":0.55,"c":82},{"y":1.68,"x":0.62,"c":62},{"y":1.68,"x":0.69,"c":88},{"y":1.68,"x":0.76,"c":150},{"y":1.68,"x":0.83,"c":118},{"y":1.68,"x":0.9,"c":82},{"y":1.68,"x":0.97,"c":50},{"y":1.68,"x":1.04,"c":35},{"y":1.68,"x":1.11,"c":42},{"y":1.68,"x":1.18,"c":40},{"y":1.68,"x":1.25,"c":30},{"y":1.68,"x":1.32,"c":34},{"y":1.68,"x":1.39,"c":28},{"y":1.68,"x":1.46,"c":26},
{"y":1.72,"x":0.34,"c":32},{"y":1.72,"x":0.41,"c":66},{"y":1.72,"x":0.48,"c":102},{"y":1.72,"x":0.55,"c":80},{"y":1.72,"x":0.62,"c":68},{"y":1.72,"x":0.69,"c":92},{"y":1.72,"x":0.76,"c":140},{"y":1.72,"x":0.83,"c":110},{"y":1.72,"x":0.9,"c":70},{"y":1.72,"x":0.97,"c":46},{"y":1.72,"x":1.04,"c":38},{"y":1.72,"x":1.11,"c":44},{"y":1.72,"x":1.18,"c":42},{"y":1.72,"x":1.25,"c":32},{"y":1.72,"x":1.32,"c":30},{"y":1.72,"x":1.39,"c":25},
{"y":1.77,"x":0.34,"c":30},{"y":1.77,"x":0.41,"c":58},{"y":1.77,"x":0.48,"c":96},{"y":1.77,"x":0.55,"c":84},{"y":1.77,"x":0.62,"c":70},{"y":1.77,"x":0.69,"c":82},{"y":1.77,"x":0.76,"c":132},{"y":1.77,"x":0.83,"c":105},{"y":1.77,"x":0.9,"c":72},{"y":1.77,"x":0.97,"c":48},{"y":1.77,"x":1.04,"c":36},{"y":1.77,"x":1.11,"c":45},{"y":1.77,"x":1.18,"c":38},{"y":1.77,"x":1.25,"c":28},{"y":1.77,"x":1.32,"c":26},{"y":1.77,"x":1.39,"c":22},
{"y":1.82,"x":0.34,"c":34},{"y":1.82,"x":0.41,"c":62},{"y":1.82,"x":0.48,"c":88},{"y":1.82,"x":0.55,"c":76},{"y":1.82,"x":0.62,"c":64},{"y":1.82,"x":0.69,"c":78},{"y":1.82,"x":0.76,"c":118},{"y":1.82,"x":0.83,"c":95},{"y":1.82,"x":0.9,"c":66},{"y":1.82,"x":0.97,"c":45},{"y":1.82,"x":1.04,"c":34},{"y":1.82,"x":1.11,"c":42},{"y":1.82,"x":1.18,"c":36},{"y":1.82,"x":1.25,"c":26},{"y":1.82,"x":1.32,"c":24},
{"y":1.86,"x":0.34,"c":32},{"y":1.86,"x":0.41,"c":58},{"y":1.86,"x":0.48,"c":85},{"y":1.86,"x":0.55,"c":72},{"y":1.86,"x":0.62,"c":60},{"y":1.86,"x":0.69,"c":72},{"y":1.86,"x":0.76,"c":108},{"y":1.86,"x":0.83,"c":86},{"y":1.86,"x":0.9,"c":60},{"y":1.86,"x":0.97,"c":42},{"y":1.86,"x":1.04,"c":30},{"y":1.86,"x":1.11,"c":36},{"y":1.86,"x":1.18,"c":30},{"y":1.86,"x":1.25,"c":24}],
"fine":[
{"y":1.15,"x":0.59,"c":60},{"y":1.15,"x":0.625,"c":70},{"y":1.15,"x":0.66,"c":80},{"y":1.15,"x":0.695,"c":85},{"y":1.15,"x":0.73,"c":95},{"y":1.15,"x":0.765,"c":95},{"y":1.15,"x":0.8,"c":90},{"y":1.15,"x":0.835,"c":80},{"y":1.15,"x":0.87,"c":70},{"y":1.15,"x":0.905,"c":60},{"y":1.15,"x":0.94,"c":50},
{"y":1.173,"x":0.59,"c":75},{"y":1.173,"x":0.625,"c":90},{"y":1.173,"x":0.66,"c":105},{"y":1.173,"x":0.695,"c":125},{"y":1.173,"x":0.73,"c":140},{"y":1.173,"x":0.765,"c":145},{"y":1.173,"x":0.8,"c":130},{"y":1.173,"x":0.835,"c":110},{"y":1.173,"x":0.87,"c":85},{"y":1.173,"x":0.905,"c":70},{"y":1.173,"x":0.94,"c":60},
{"y":1.196,"x":0.59,"c":90},{"y":1.196,"x":0.625,"c":115},{"y":1.196,"x":0.66,"c":150},{"y":1.196,"x":0.695,"c":195},{"y":1.196,"x":0.73,"c":255},{"y":1.196,"x":0.765,"c":275},{"y":1.196,"x":0.8,"c":230},{"y":1.196,"x":0.835,"c":165},{"y":1.196,"x":0.87,"c":115},{"y":1.196,"x":0.905,"c":85},{"y":1.196,"x":0.94,"c":70},
{"y":1.219,"x":0.59,"c":95},{"y":1.219,"x":0.625,"c":125},{"y":1.219,"x":0.66,"c":175},{"y":1.219,"x":0.695,"c":275},{"y":1.219,"x":0.73,"c":370},{"y":1.219,"x":0.765,"c":392},{"y":1.219,"x":0.8,"c":320},{"y":1.219,"x":0.835,"c":210},{"y":1.219,"x":0.87,"c":130},{"y":1.219,"x":0.905,"c":95},{"y":1.219,"x":0.94,"c":80},
{"y":1.242,"x":0.59,"c":90},{"y":1.242,"x":0.625,"c":115},{"y":1.242,"x":0.66,"c":160},{"y":1.242,"x":0.695,"c":250},{"y":1.242,"x":0.73,"c":330},{"y":1.242,"x":0.765,"c":350},{"y":1.242,"x":0.8,"c":285},{"y":1.242,"x":0.835,"c":185},{"y":1.242,"x":0.87,"c":120},{"y":1.242,"x":0.905,"c":90},{"y":1.242,"x":0.94,"c":75},
{"y":1.265,"x":0.59,"c":80},{"y":1.265,"x":0.625,"c":100},{"y":1.265,"x":0.66,"c":130},{"y":1.265,"x":0.695,"c":185},{"y":1.265,"x":0.73,"c":245},{"y":1.265,"x":0.765,"c":260},{"y":1.265,"x":0.8,"c":215},{"y":1.265,"x":0.835,"c":150},{"y":1.265,"x":0.87,"c":105},{"y":1.265,"x":0.905,"c":80},{"y":1.265,"x":0.94,"c":70},
{"y":1.288,"x":0.59,"c":72},{"y":1.288,"x":0.625,"c":85},{"y":1.288,"x":0.66,"c":105},{"y":1.288,"x":0.695,"c":140},{"y":1.288,"x":0.73,"c":190},{"y":1.288,"x":0.765,"c":200},{"y":1.288,"x":0.8,"c":170},{"y":1.288,"x":0.835,"c":125},{"y":1.288,"x":0.87,"c":90},{"y":1.288,"x":0.905,"c":72},{"y":1.288,"x":0.94,"c":60},
{"y":1.311,"x":0.59,"c":65},{"y":1.311,"x":0.625,"c":75},{"y":1.311,"x":0.66,"c":90},{"y":1.311,"x":0.695,"c":120},{"y":1.311,"x":0.73,"c":155},{"y":1.311,"x":0.765,"c":165},{"y":1.311,"x":0.8,"c":140},{"y":1.311,"x":0.835,"c":105},{"y":1.311,"x":0.87,"c":80},{"y":1.311,"x":0.905,"c":65},{"y":1.311,"x":0.94,"c":55},
{"y":1.334,"x":0.59,"c":60},{"y":1.334,"x":0.625,"c":70},{"y":1.334,"x":0.66,"c":85},{"y":1.334,"x":0.695,"c":105},{"y":1.334,"x":0.73,"c":135},{"y":1.334,"x":0.765,"c":145},{"y":1.334,"x":0.8,"c":125},{"y":1.334,"x":0.835,"c":95},{"y":1.334,"x":0.87,"c":72},{"y":1.334,"x":0.905,"c":60},{"y":1.334,"x":0.94,"c":52},
{"y":1.357,"x":0.59,"c":60},{"y":1.357,"x":0.625,"c":68},{"y":1.357,"x":0.66,"c":80},{"y":1.357,"x":0.695,"c":100},{"y":1.357,"x":0.73,"c":125},{"y":1.357,"x":0.765,"c":135},{"y":1.357,"x":0.8,"c":115},{"y":1.357,"x":0.835,"c":90},{"y":1.357,"x":0.87,"c":70},{"y":1.357,"x":0.905,"c":58},{"y":1.357,"x":0.94,"c":50},
{"y":1.38,"x":0.59,"c":58},{"y":1.38,"x":0.625,"c":65},{"y":1.38,"x":0.66,"c":78},{"y":1.38,"x":0.695,"c":98},{"y":1.38,"x":0.73,"c":120},{"y":1.38,"x":0.765,"c":130},{"y":1.38,"x":0.8,"c":110},{"y":1.38,"x":0.835,"c":88},{"y":1.38,"x":0.87,"c":68},{"y":1.38,"x":0.905,"c":58},{"y":1.38,"x":0.94,"c":50}],
"bar":[{"a":0,"b":19.8,"c":9.9},{"a":19.8,"b":39.6,"c":29.7},{"a":39.6,"b":59.4,"c":49.5},{"a":59.4,"b":79.2,"c":69.3},{"a":79.2,"b":99,"c":89.1},{"a":99,"b":118.8,"c":108.9},{"a":118.8,"b":138.6,"c":128.7},{"a":138.6,"b":158.4,"c":148.5},{"a":158.4,"b":178.2,"c":168.3},{"a":178.2,"b":198,"c":188.1},{"a":198,"b":217.8,"c":207.9},{"a":217.8,"b":237.6,"c":227.7},{"a":237.6,"b":257.4,"c":247.5},{"a":257.4,"b":277.2,"c":267.3},{"a":277.2,"b":297,"c":287.1},{"a":297,"b":316.8,"c":306.9},{"a":316.8,"b":336.6,"c":326.7},{"a":336.6,"b":356.4,"c":346.5},{"a":356.4,"b":376.2,"c":366.3},{"a":376.2,"b":396,"c":386.1}],
"minorx":[{"v":0.1},{"v":0.2},{"v":0.3},{"v":0.4},{"v":0.6},{"v":0.7},{"v":0.8},{"v":0.9},{"v":1.1},{"v":1.2},{"v":1.3},{"v":1.4},{"v":1.6},{"v":1.7},{"v":1.8},{"v":1.9},{"v":2.1},{"v":2.2},{"v":2.3},{"v":2.4},{"v":2.6},{"v":2.7},{"v":2.8},{"v":2.9},{"v":3.1},{"v":3.2},{"v":3.3},{"v":3.4}],
"minory":[{"v":1.1},{"v":1.2},{"v":1.3},{"v":1.4},{"v":1.6},{"v":1.7},{"v":1.8},{"v":1.9},{"v":2.1},{"v":2.2},{"v":2.3},{"v":2.4},{"v":2.6},{"v":2.7},{"v":2.8},{"v":2.9},{"v":3.1},{"v":3.2},{"v":3.3},{"v":3.4},{"v":3.6},{"v":3.7},{"v":3.8},{"v":3.9},{"v":4.1},{"v":4.2},{"v":4.3},{"v":4.4}],
"wave":[{"x":3.138,"y":4.322,"o":1},{"x":3.161,"y":4.334,"o":2},{"x":3.184,"y":4.311,"o":3},{"x":3.207,"y":4.334,"o":4},{"x":3.23,"y":4.311,"o":5},{"x":3.253,"y":4.334,"o":6},{"x":3.276,"y":4.311,"o":7},{"x":3.299,"y":4.334,"o":8},{"x":3.322,"y":4.311,"o":9},{"x":3.345,"y":4.334,"o":10},{"x":3.366,"y":4.326,"o":11}],
"xlogo":[{"k":"a","o":1,"x":3.023,"y":4.431,"w":16},{"k":"a","o":2,"x":3.081,"y":4.36,"w":18},{"k":"a","o":3,"x":3.138,"y":4.265,"w":17},{"k":"a","o":4,"x":3.181,"y":4.199,"w":14},{"k":"b","o":1,"x":2.944,"y":4.419,"w":3},{"k":"b","o":2,"x":3.081,"y":4.44,"w":7},{"k":"c","o":1,"x":3.138,"y":4.194,"w":6},{"k":"c","o":2,"x":3.303,"y":4.203,"w":3},{"k":"d","o":1,"x":2.805,"y":4.196,"w":3},{"k":"d","o":2,"x":2.851,"y":4.218,"w":9},{"k":"d","o":3,"x":2.922,"y":4.227,"w":11},{"k":"d","o":4,"x":3.009,"y":4.265,"w":8},{"k":"d","o":5,"x":3.152,"y":4.365,"w":6},{"k":"d","o":6,"x":3.253,"y":4.426,"w":7},{"k":"d","o":7,"x":3.325,"y":4.44,"w":10},{"k":"d","o":8,"x":3.368,"y":4.44,"w":3}]},
"layer":[{"layer":[
{"data":{"name":"frame"},"transform":[{"filter":"datum.k=='navy'"}],"mark":{"type":"rect","color":"#001f5e","cornerRadius":6},"encoding":{"x":{"field":"a","type":"quantitative","scale":{"domain":[0,3.5],"nice":false,"zero":false},"axis":{"zindex":1,"title":"M[π⁰π⁻] (GeV)","titleFontSize":67,"titleFontWeight":"normal","titleAnchor":"end","titlePadding":42,"titleColor":"#111","values":[0,0.5,1,1.5,2,2.5,3,3.5],"format":"~g","labelFontSize":54,"labelColor":"#111","labelPadding":66,"labelFlush":false,"labelOverlap":false,"labelBound":false,"tickSize":-33,"tickColor":"#111","tickWidth":2,"domainColor":"#111","domainWidth":2.5,"grid":true,"gridColor":"#222","gridDash":[2,3.3],"gridWidth":2}},"x2":{"field":"b"},"y":{"field":"c","type":"quantitative","scale":{"domain":[1,4.5],"nice":false,"zero":false},"axis":{"zindex":1,"title":"M[π⁺p] (GeV)","titleFontSize":70,"titleFontWeight":"normal","titleAnchor":"end","titlePadding":91,"titleColor":"#111","values":[1,1.5,2,2.5,3,3.5,4,4.5],"format":"~g","labelFontSize":54,"labelColor":"#111","labelPadding":46,"labelOffset":3,"labelFlush":false,"labelOverlap":false,"labelBound":false,"tickSize":-33,"tickColor":"#111","tickWidth":2,"domainColor":"#111","domainWidth":2.5,"grid":true,"gridColor":"#222","gridDash":[2,3.3],"gridWidth":2}},"y2":{"field":"d"}}},
{"data":{"name":"frame"},"transform":[{"filter":"datum.k=='white'"}],"mark":{"type":"rect","color":"#ffffff"},"encoding":{"x":{"field":"a","type":"quantitative"},"x2":{"field":"b"},"y":{"field":"c","type":"quantitative"},"y2":{"field":"d"}}},
{"data":{"name":"strips"},"mark":{"type":"rect","height":8.8,"color":"#cfd50d"},"encoding":{"x":{"field":"a","type":"quantitative"},"x2":{"field":"b"},"y":{"field":"y","type":"quantitative"}}},
{"data":{"name":"tall"},"mark":{"type":"rect","width":16.5,"height":32.5},"encoding":{"x":{"field":"x","type":"quantitative"},"y":{"field":"y","type":"quantitative"},"color":{"field":"c","type":"quantitative","legend":null,"scale":{"type":"threshold","domain":[19.8,39.6,59.4,79.2,99,118.8,138.6,158.4,178.2,198,217.8,237.6,257.4,277.2,297,316.8,336.6,356.4,376.2],"range":["#cfd50d","#a4c824","#7dbb2e","#59b439","#42ae48","#33a354","#2f9560","#1f8a6b","#1b7b6f","#1f7170","#1f6a72","#235c72","#235272","#28456f","#2b3b6e","#2e2e6e","#331d6a","#2f1255","#230c38","#1a0820"]}}}},
{"data":{"name":"coarse"},"mark":{"type":"rect","width":16.5,"height":18},"encoding":{"x":{"field":"x","type":"quantitative"},"y":{"field":"y","type":"quantitative"},"color":{"field":"c","type":"quantitative","legend":null,"scale":{"type":"threshold","domain":[19.8,39.6,59.4,79.2,99,118.8,138.6,158.4,178.2,198,217.8,237.6,257.4,277.2,297,316.8,336.6,356.4,376.2],"range":["#cfd50d","#a4c824","#7dbb2e","#59b439","#42ae48","#33a354","#2f9560","#1f8a6b","#1b7b6f","#1f7170","#1f6a72","#235c72","#235272","#28456f","#2b3b6e","#2e2e6e","#331d6a","#2f1255","#230c38","#1a0820"]}}}},
{"data":{"name":"fine"},"mark":{"type":"rect","width":8.5,"height":8.5},"encoding":{"x":{"field":"x","type":"quantitative"},"y":{"field":"y","type":"quantitative"},"color":{"field":"c","type":"quantitative","legend":null,"scale":{"type":"threshold","domain":[19.8,39.6,59.4,79.2,99,118.8,138.6,158.4,178.2,198,217.8,237.6,257.4,277.2,297,316.8,336.6,356.4,376.2],"range":["#cfd50d","#a4c824","#7dbb2e","#59b439","#42ae48","#33a354","#2f9560","#1f8a6b","#1b7b6f","#1f7170","#1f6a72","#235c72","#235272","#28456f","#2b3b6e","#2e2e6e","#331d6a","#2f1255","#230c38","#1a0820"]}}}},
{"data":{"name":"minorx"},"mark":{"type":"rule","color":"#111","strokeWidth":1.6},"encoding":{"x":{"field":"v","type":"quantitative"},"y":{"datum":1},"y2":{"datum":1.043}}},
{"data":{"name":"minory"},"mark":{"type":"rule","color":"#111","strokeWidth":1.6},"encoding":{"y":{"field":"v","type":"quantitative"},"x":{"datum":0},"x2":{"datum":0.06}}},
{"data":{"values":[{"x":3.5}]},"mark":{"type":"rule","color":"#222","strokeWidth":2.5},"encoding":{"x":{"field":"x","type":"quantitative"},"y":{"datum":1},"y2":{"datum":4.5}}},
{"data":{"values":[{"y":4.5}]},"mark":{"type":"rule","color":"#222","strokeWidth":2.5},"encoding":{"y":{"field":"y","type":"quantitative"},"x":{"datum":0},"x2":{"datum":3.5}}},
{"data":{"values":[{"x":0.759,"y":1.269}]},"mark":{"type":"point","shape":"circle","size":20736,"filled":false,"stroke":"#ee0a0f","strokeWidth":8,"opacity":1},"encoding":{"x":{"field":"x","type":"quantitative"},"y":{"field":"y","type":"quantitative"}}},
{"data":{"values":[{"x":2.345,"y":4.266,"t":"G"}]},"mark":{"type":"text","align":"left","baseline":"alphabetic","font":"DejaVu Sans","fontWeight":"bold","fontSize":82,"color":"#2e3192"},"encoding":{"x":{"field":"x","type":"quantitative"},"y":{"field":"y","type":"quantitative"},"text":{"field":"t"}}},
{"data":{"values":[{"x":2.707,"y":4.295,"t":"LU"}]},"mark":{"type":"text","align":"left","baseline":"alphabetic","font":"Liberation Sans","fontWeight":"bold","fontSize":38,"color":"#2e3192"},"encoding":{"x":{"field":"x","type":"quantitative"},"y":{"field":"y","type":"quantitative"},"text":{"field":"t"}}},
{"data":{"values":[{"x":2.94,"y":4.295,"t":"E"}]},"mark":{"type":"text","align":"left","baseline":"alphabetic","font":"Liberation Sans","fontWeight":"bold","fontSize":38,"color":"#b5302a"},"encoding":{"x":{"field":"x","type":"quantitative"},"y":{"field":"y","type":"quantitative"},"text":{"field":"t"}}},
{"data":{"name":"xlogo"},"mark":{"type":"trail","color":"#b5302a"},"encoding":{"x":{"field":"x","type":"quantitative"},"y":{"field":"y","type":"quantitative"},"order":{"field":"o"},"detail":{"field":"k"},"size":{"field":"w","type":"quantitative","legend":null,"scale":{"domain":[0,30],"range":[0,30],"zero":true}}}},
{"data":{"name":"wave"},"mark":{"type":"line","color":"#5fae57","strokeWidth":1.6,"interpolate":"monotone"},"encoding":{"x":{"field":"x","type":"quantitative"},"y":{"field":"y","type":"quantitative"},"order":{"field":"o"}}},
{"data":{"values":[{"x":2.51,"y":4.033,"t":"Internal"}]},"mark":{"type":"text","align":"left","baseline":"alphabetic","font":"Liberation Sans","fontSize":46,"color":"#2e3192"},"encoding":{"x":{"field":"x","type":"quantitative"},"y":{"field":"y","type":"quantitative"},"text":{"field":"t"}}}
]},
{"data":{"name":"bar"},"mark":{"type":"rect"},"encoding":{"x":{"datum":3.526},"x2":{"datum":3.787},"y":{"field":"a","type":"quantitative","scale":{"domain":[0,396],"nice":false,"zero":true},"axis":{"zindex":1,"orient":"right","offset":66,"title":null,"values":[0,50,100,150,200,250,300,350],"labelFontSize":54,"labelColor":"#111","labelPadding":41,"labelOffset":2,"labelFlush":false,"labelOverlap":false,"labelBound":false,"tickSize":-28,"tickColor":"#111","tickWidth":2,"domainColor":"#222","domainWidth":2,"grid":false}},"y2":{"field":"b"},"color":{"field":"c","type":"quantitative","legend":null,"scale":{"type":"threshold","domain":[19.8,39.6,59.4,79.2,99,118.8,138.6,158.4,178.2,198,217.8,237.6,257.4,277.2,297,316.8,336.6,356.4,376.2],"range":["#cfd50d","#a4c824","#7dbb2e","#59b439","#42ae48","#33a354","#2f9560","#1f8a6b","#1b7b6f","#1f7170","#1f6a72","#235c72","#235272","#28456f","#2b3b6e","#2e2e6e","#331d6a","#2f1255","#230c38","#1a0820"]}}}}
],"resolve":{"scale":{"y":"independent"}}}
